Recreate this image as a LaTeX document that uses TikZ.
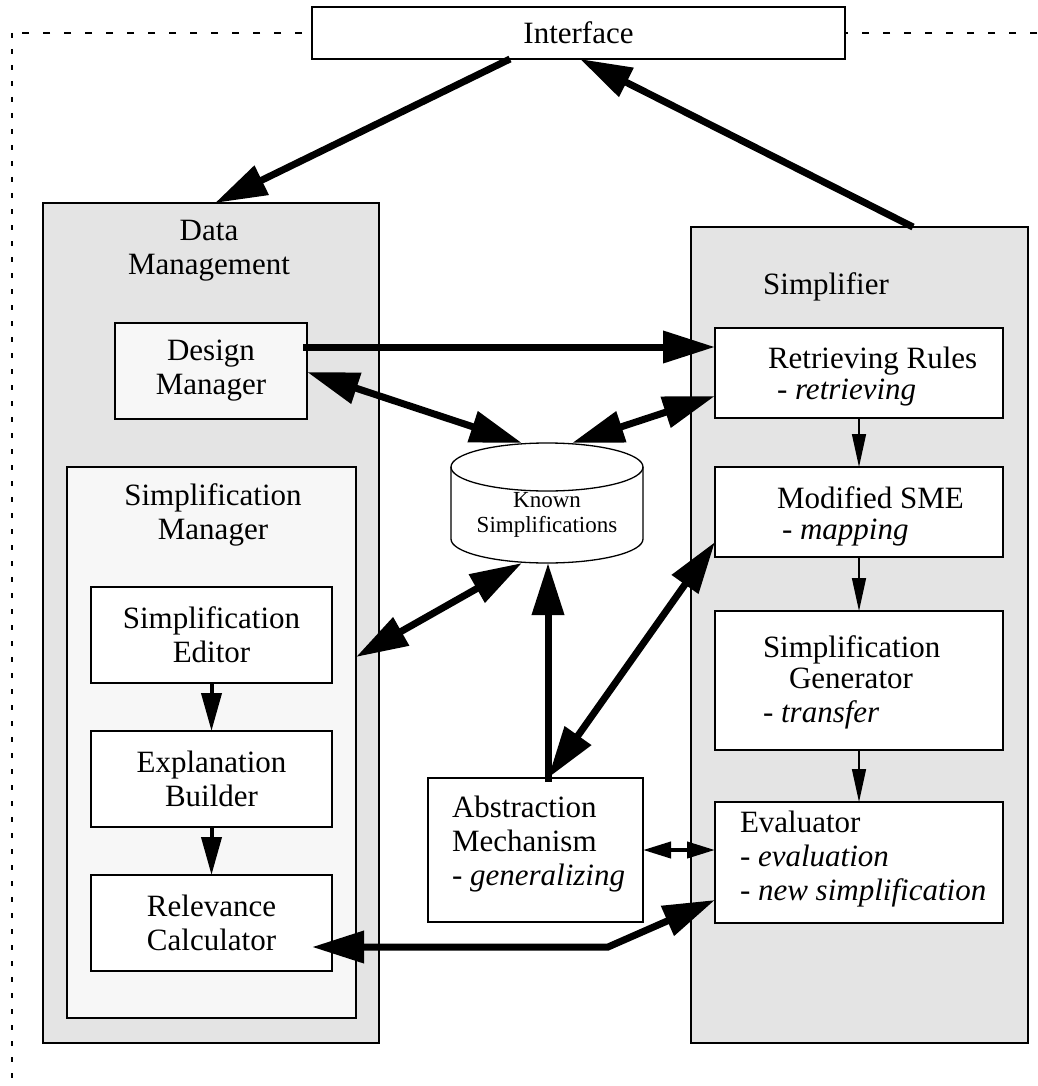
\documentclass[tikz,border=0pt]{standalone}
\usepackage{fontspec}
\setmainfont{Liberation Serif}
\usetikzlibrary{arrows.meta,calc}
\definecolor{Panel}{RGB}{228,228,228}
\definecolor{Pale}{RGB}{247,247,247}

\tikzset{
  every node/.style={font=\fontsize{31}{34}\selectfont, inner sep=0pt, outer sep=0pt},
  dims/.style 2 args={minimum width=#1pt, minimum height=#2pt},
  graybox/.style={draw, line width=1.3pt, fill=Panel},
  palebox/.style={draw, line width=1.3pt, fill=Pale, align=center},
  whitebox/.style={draw, line width=1.3pt, fill=white, align=center},
  title/.style={align=center},
  listtext/.style={anchor=west, align=left},
  bigarrow/.style={line width=7pt, -{Triangle[length=52pt,width=31pt]}},
  bigdouble/.style={line width=7pt, {Triangle[length=52pt,width=31pt]}-{Triangle[length=52pt,width=31pt]}},
  midarrow/.style={line width=4pt, -{Triangle[length=38pt,width=20pt]}},
  thinarrow/.style={line width=1.5pt, -{Triangle[length=33pt,width=14pt]}},
  smalldouble/.style={line width=4pt, {Triangle[length=28pt,width=16pt]}-{Triangle[length=28pt,width=16pt]}}
}

\begin{document}
\begin{tikzpicture}[x=1pt,y=-1pt]
\useasboundingbox (0,0) rectangle (1037,1086);
% dotted frame
\draw[line width=1.2pt,dash pattern=on 7pt off 14pt] (1037,33) -- (12,33);
\draw[line width=1.2pt,dash pattern=on 5pt off 11pt] (12,33) -- (12,1080);
%
\node[whitebox,dims={533}{52}] (iface) at (578.5,33) {Interface};
% data management side
\node[graybox,dims={336}{840}] (dm) at (211,623) {};
\node[title] (dmtitle) at (209,251) {Data\\Management};
\node[palebox,dims={192}{96}] (dsgn) at (211,371) {Design\\Manager};
\node[palebox,dims={289}{551}] (sm) at (211.5,742.5) {};
\node[title] (smtitle) at (213,515) {Simplification\\Manager};
\node[whitebox,dims={241}{96}] (sedit) at (211.5,635) {Simplification\\Editor};
\node[whitebox,dims={241}{96}] (expl) at (211.5,779) {Explanation\\Builder};
\node[whitebox,dims={241}{96}] (relv) at (211.5,923) {Relevance\\Calculator};
% simplifier side
\node[graybox,dims={337}{816}] (simp) at (859.5,635) {};
\node[title] (simptitle) at (826,287) {Simplifier};
\node[whitebox,dims={288}{90}] (rr) at (859,373) {};
\node[listtext] (rrtext) at (768,377) {Retrieving Rules\\[-3pt]\hspace{9pt}- \textit{retrieving}};
\node[whitebox,dims={288}{90}] (msme) at (859,512) {};
\node[listtext] (msmetext) at (777,516) {Modified SME\\[-3pt]\hspace{5pt}- \textit{mapping}};
\node[whitebox,dims={288}{139}] (sgen) at (859,680.5) {};
\node[listtext] (sgentext) at (763,682) {Simplification\\[-3pt]\hspace{26pt}Generator\\- \textit{transfer}};
\node[whitebox,dims={288}{121}] (eval) at (859,862.5) {};
\node[listtext] (evaltext) at (740,859) {Evaluator\\- \textit{evaluation}\\- \textit{new simplification}};
% middle
\node[whitebox,dims={215}{144}] (abst) at (535.5,850) {};
\node[listtext] (absttext) at (452,844) {Abstraction\\Mechanism\\- \textit{generalizing}};
\draw[line width=1.3pt,fill=white] (451,467) -- (451,539)
  arc[start angle=180,end angle=0,x radius=96,y radius=24] -- (643,467)
  arc[start angle=0,end angle=-180,x radius=96,y radius=24];
\draw[line width=1.3pt] (451,467) arc[start angle=180,end angle=0,x radius=96,y radius=24];
\node[dims={192}{120}] (ks) at (547,503) {};
\node[title,font=\fontsize{23}{25}\selectfont] (kstext) at (547,515) {Known\\Simplifications};
%
% connectors
\draw[bigarrow] ($(iface.south west)+(198,0)$) -- ($(dm.north west)+(172,0)$);
\draw[bigarrow] ($(simp.north west)+(222,0)$) -- ($(iface.south west)+(268,0)$);
\draw[bigarrow] ($(dsgn.north east)+(-4,24)$) -- ($(rr.north west)+(0,19)$);
\draw[bigdouble] ($(dsgn.north east)+(0,49)$) -- ($(ks.north)+(-25,0)$);
\draw[bigdouble] ($(rr.north west)+(0,68)$) -- ($(ks.north)+(25,0)$);
\draw[bigdouble] ($(sm.north east)+(0,190)$) -- ($(ks.south)+(-25,0)$);
\draw[bigarrow] ($(abst.north)+(12.5,4)$) -- ($(ks.south)+(1,0)$);
\draw[bigdouble] ($(abst.north)+(12.5,0)$) -- ($(msme.south west)+(0,-15)$);
\draw[smalldouble] (abst.east) -- (abst.east -| eval.west);
\coordinate (bend) at (608,947);
\draw[bigdouble] ($(relv.east)+(-20,24)$) -- (bend) -- ($(eval.south west)+(0,-23)$);
\draw[thinarrow] (rr.south) -- (msme.north);
\draw[thinarrow] (msme.south) -- (sgen.north);
\draw[thinarrow] (sgen.south) -- (eval.north);
\draw[midarrow] (sedit.south) -- (expl.north);
\draw[midarrow] (expl.south) -- (relv.north);
\end{tikzpicture}
\end{document}
